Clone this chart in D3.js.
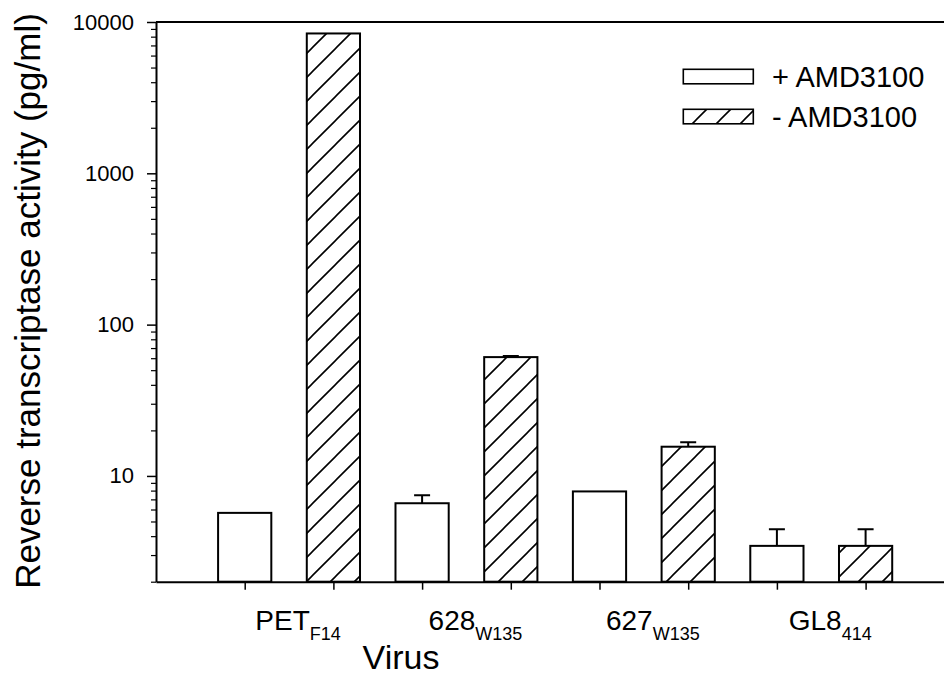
<!DOCTYPE html>
<html>

<head>
    <title>Reverse transcriptase activity</title>
    <script src="https://cdn.jsdelivr.net/npm/d3@7"></script>
    <style>
        body { margin: 0; background: #fff; }
        text { font-family: "Liberation Sans", Arial, sans-serif; fill: #000; }
    </style>
</head>

<body>
    <svg width="944" height="688" id="mainsvg"></svg>
    <script>
        // data
        const viruses = ['PET', '628', '627', 'GL8'];
        const virusSubs = ['F14', 'W135', 'W135', '414'];
        const plusAMD = [5.7, 6.6, 7.9, 3.45];
        const plusAMDErr = [0, 0.85, 0, 1.0];
        const minusAMD = [8400, 61, 15.6, 3.45];
        const minusAMDErr = [0, 1, 1.1, 1.0];
        const yTicks = [10, 100, 1000, 10000];
        const seriesNames = ['+ AMD3100', '- AMD3100'];

        const svg = d3.select('#mainsvg');
        const plotLeft = 156, plotTop = 22, plotBottom = 581.7;

        const x = d3.scaleLinear().domain([-1, 9]).range([plotLeft, plotLeft + 10 * 88.7]);
        const y = d3.scaleLog().domain([2, 10000]).range([plotBottom, plotTop]);
        const barW = x(0.6) - x(0);

        // hatch pattern
        const defs = svg.append('defs');
        const pat = defs.append('pattern').attr('id', 'hatch')
            .attr('patternUnits', 'userSpaceOnUse')
            .attr('width', 24).attr('height', 24);
        pat.append('path')
            .attr('d', 'M0,24 L24,0 M-6,6 L6,-6 M18,30 L30,18')
            .attr('stroke', '#000').attr('stroke-width', 1.6);

        // bars
        const bars = [];
        viruses.forEach((v, i) => {
            bars.push({ pos: 2 * i, val: plusAMD[i], err: plusAMDErr[i], s: 0 });
            bars.push({ pos: 2 * i + 1, val: minusAMD[i], err: minusAMDErr[i], s: 1 });
        });

        const g = svg.append('g');
        g.selectAll('.bar').data(bars).enter().append('rect')
            .attr('class', 'bar')
            .attr('x', d => x(d.pos) - barW / 2)
            .attr('y', d => y(d.val))
            .attr('width', barW)
            .attr('height', d => plotBottom - y(d.val))
            .attr('fill', d => d.s === 0 ? '#fff' : 'url(#hatch)')
            .attr('stroke', '#000')
            .attr('stroke-width', 2);

        // error bars
        const errs = bars.filter(d => d.err > 0);
        g.selectAll('.err').data(errs).enter().append('path')
            .attr('class', 'err')
            .attr('d', d => {
                const cx = x(d.pos), y0 = y(d.val), y1 = y(d.val + d.err);
                return `M${cx},${y0} L${cx},${y1} M${cx - 8},${y1} L${cx + 8},${y1}`;
            })
            .attr('stroke', '#000').attr('stroke-width', 2).attr('fill', 'none');

        // y axis: majors + minors
        const minor = [];
        for (let k = 0; k < 4; k++) {
            for (let m = 2; m <= 9; m++) {
                const v = m * Math.pow(10, k);
                if (v >= 2 && v < 10000 && !yTicks.includes(v)) minor.push(v);
            }
        }
        const yAxis = svg.append('g').attr('transform', `translate(${plotLeft},0)`)
            .call(d3.axisLeft(y).tickValues(yTicks).tickSize(9).tickSizeOuter(0).tickPadding(13)
                .tickFormat(d3.format('d')));
        yAxis.select('.domain').attr('stroke-width', 2);
        yAxis.selectAll('.tick line').attr('stroke-width', 1.5);
        yAxis.selectAll('.tick text').attr('font-size', 22)
            .style('font-family', '"Liberation Sans", Arial, sans-serif');

        const yMinor = svg.append('g').attr('transform', `translate(${plotLeft},0)`)
            .call(d3.axisLeft(y).tickValues(minor).tickSize(5).tickSizeOuter(0).tickFormat(''));
        yMinor.select('.domain').remove();
        yMinor.selectAll('.tick line').attr('stroke-width', 1.2);

        // x axis
        const xAxis = svg.append('g').attr('transform', `translate(0,${plotBottom})`)
            .call(d3.axisBottom(x).tickValues(d3.range(8)).tickSize(8).tickSizeOuter(0).tickFormat(''));
        xAxis.select('.domain').attr('stroke-width', 2);
        xAxis.selectAll('.tick line').attr('stroke-width', 1.5);

        // top frame line
        svg.append('line')
            .attr('x1', x(-1)).attr('x2', x(9))
            .attr('y1', plotTop).attr('y2', plotTop)
            .attr('stroke', '#000').attr('stroke-width', 2);

        // group labels with subscripts
        viruses.forEach((v, i) => {
            const t = svg.append('text')
                .attr('x', (x(2 * i) + x(2 * i + 1)) / 2 + 9)
                .attr('y', 630)
                .attr('text-anchor', 'middle')
                .attr('font-size', 28);
            t.append('tspan').text(v);
            t.append('tspan').attr('font-size', 18).attr('dy', 10).text(virusSubs[i]);
        });

        // axis titles
        svg.append('text')
            .attr('x', 401).attr('y', 669)
            .attr('text-anchor', 'middle')
            .attr('font-size', 34)
            .text('Virus');

        svg.append('text')
            .attr('transform', 'translate(40,301) rotate(-90)')
            .attr('text-anchor', 'middle')
            .attr('font-size', 35)
            .text('Reverse transcriptase activity (pg/ml)');

        // legend
        const legend = svg.append('g');
        seriesNames.forEach((name, i) => {
            const ly = 69.3 + i * 40;
            legend.append('rect')
                .attr('x', 683.3).attr('y', ly)
                .attr('width', 70).attr('height', 14.5)
                .attr('fill', i === 0 ? '#fff' : 'url(#hatch)')
                .attr('stroke', '#000').attr('stroke-width', 1.6);
            legend.append('text')
                .attr('x', 772).attr('y', ly + 17.5)
                .attr('font-size', 29)
                .text(name);
        });
    </script>
</body>

</html>
